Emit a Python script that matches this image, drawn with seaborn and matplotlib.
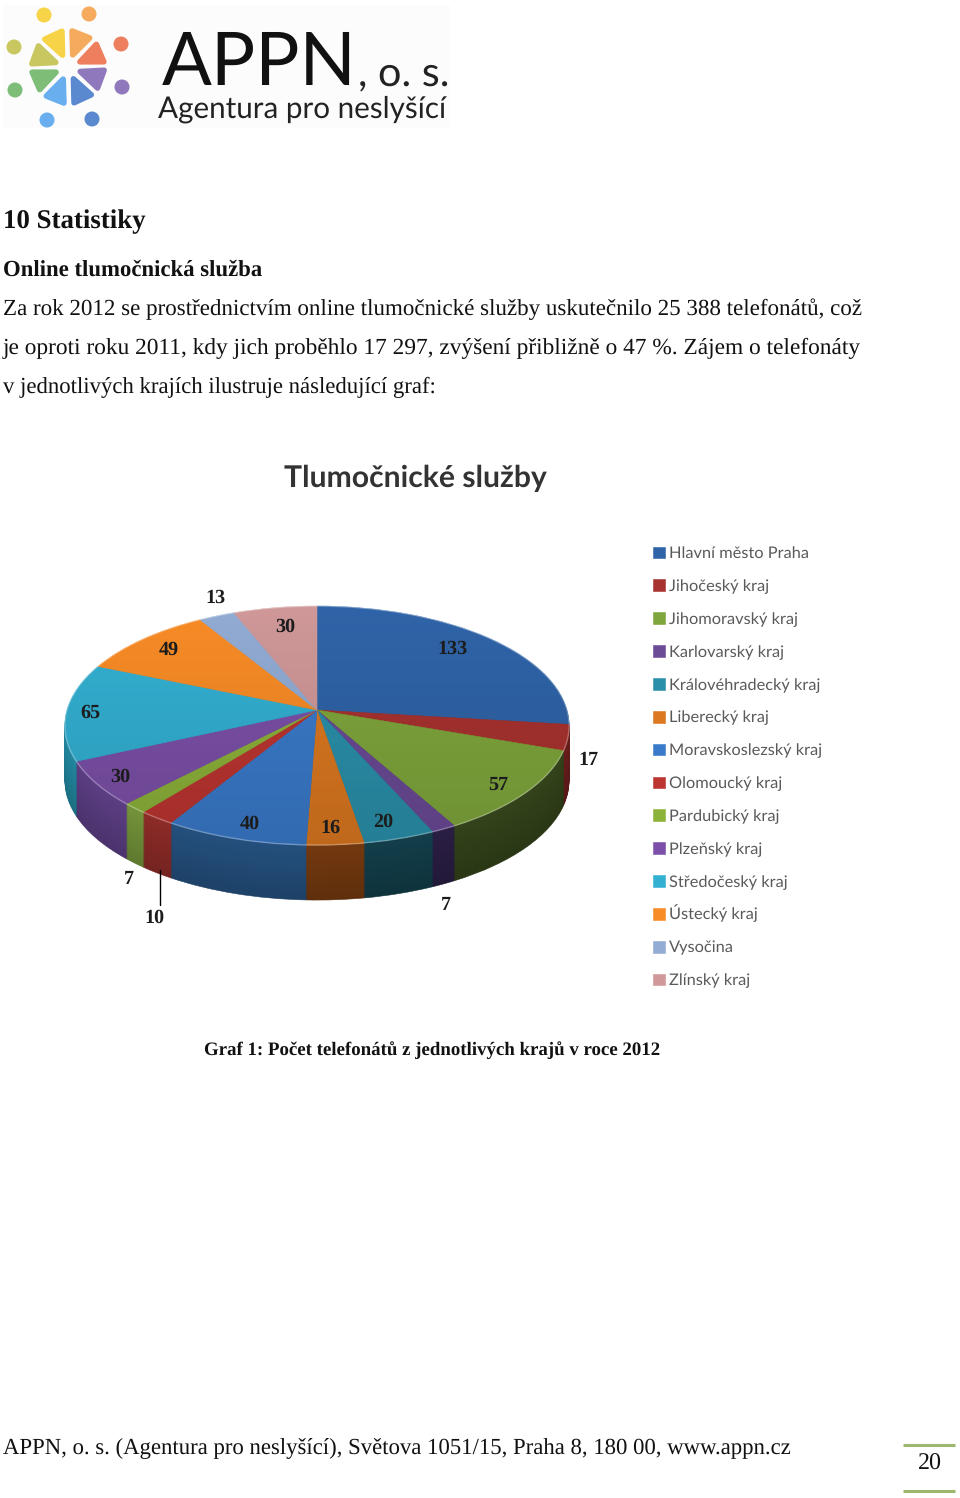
import numpy as np
import matplotlib
matplotlib.use("Agg")
import matplotlib.pyplot as plt
from matplotlib.font_manager import FontProperties
from matplotlib.patches import Circle, Polygon, Rectangle
from matplotlib.textpath import TextPath
from matplotlib.transforms import Transform, Affine2D, Bbox
import seaborn as sns

# ---------- data ----------
regions = ["Hlavní město Praha", "Jihočeský kraj", "Jihomoravský kraj", "Karlovarský kraj",
           "Královéhradecký kraj", "Liberecký kraj", "Moravskoslezský kraj", "Olomoucký kraj",
           "Pardubický kraj", "Plzeňský kraj", "Středočeský kraj", "Ústecký kraj",
           "Vysočina", "Zlínský kraj"]
calls = [133, 17, 57, 7, 20, 16, 40, 10, 7, 30, 65, 49, 13, 30]

# ---------- styles ----------
top_hex = ["#2F64A8", "#A8322F", "#7FA63C", "#6B4A96", "#2A90AA", "#DB7820", "#3A7ACA",
           "#BC3530", "#8DB23A", "#7C50A8", "#33B0D2", "#F88C26", "#92ACD4", "#D09898"]
side_hex = ["#1F3F6E", "#6A1D1B", "#33431A", "#2A1E44", "#123E4A", "#74390F", "#24507E",
            "#8E2B28", "#74943A", "#5C3E84", "#2288A0", "#B8641A", "#6D80A0", "#9A7070"]
label_x = [452, 588, 498, 446, 383, 330, 250, 154, 129, 120, 90, 169, 215, 285]
label_y = [649, 760, 785, 905, 822, 828, 824, 918, 879, 777, 713, 650, 598, 627]

sns.set_theme(style="white")
plt.rcParams["font.family"] = ["Liberation Serif", "DejaVu Sans"]
plt.rcParams["text.hinting"] = "no_hinting"
top_pal = sns.color_palette(top_hex)
side_pal = sns.color_palette(side_hex)

fig = plt.figure(figsize=(9.6, 14.98), dpi=100)
ax = fig.add_axes([0, 0, 1, 1])


class Tilt(Transform):
    """Perspective view of the unit-circle pie on the page."""
    input_dims = 2
    output_dims = 2
    has_inverse = False
    is_separable = False
    cx, cy, sx, sy, p = 317.0, 710.0, 250.0, 117.5, 0.13

    def transform_non_affine(self, v):
        v = np.asarray(v, float)
        x, y = v[:, 0], v[:, 1]
        w = 1 + self.p * y
        return np.column_stack([self.cx + self.sx * x / w, self.cy - self.sy * y / w])


tilt = Tilt()


def draw_pie(colors, dy, z):
    wedges, _ = ax.pie(calls, colors=colors, startangle=90, counterclock=False, radius=1,
                       wedgeprops=dict(linewidth=0.4))
    tr = tilt + Affine2D().translate(0, dy) + ax.transData
    for w, c in zip(wedges, colors):
        w.set_transform(tr)
        w.set_edgecolor(c)
        w.set_zorder(z)
    return wedges


depth = 55
for d in range(depth, 0, -1):
    f = 0.82 + 0.18 * (1 - d / depth)
    draw_pie([tuple(f * np.array(c)) for c in side_pal], d, 1 + (depth - d) * 0.01)
tops = draw_pie(list(top_pal), 0, 2)

# soft vertical shading of the pie top
grad = np.zeros((120, 2, 4))
grad[..., 3] = np.linspace(0.0, 0.13, 120)[:, None]
im = ax.imshow(grad, extent=(60, 575, 850, 600), aspect="auto", zorder=3, interpolation="bilinear")
clip = Circle((0, 0), 1)
clip.set_transform(tilt + ax.transData)
im.set_clip_path(clip)
rim = Circle((0, 0), 1, fill=False, edgecolor="white", alpha=0.3, linewidth=1.0, zorder=3.5)
ax.add_patch(rim)
rim.set_transform(tilt + ax.transData)

ax.set_xlim(0, 960)
ax.set_ylim(1498, 0)
ax.set_aspect("auto")
ax.axis("off")

# value labels
for v, x, y in zip(calls, label_x, label_y):
    ax.text(x, y, str(v), ha="center", va="center", fontsize=14.5, fontweight="bold",
            color="#1c1c1c", zorder=6)
ax.plot([160, 160], [870, 905], color="black", lw=1.0, zorder=6)

# legend
leg = ax.legend(tops, regions, loc="upper left", bbox_to_anchor=(648, 541.5),
                bbox_transform=ax.transData, frameon=False,
                prop=dict(family="Lato", size=11.8), labelspacing=1.118, handlelength=0.72,
                handleheight=0.72, handletextpad=0.24, borderpad=0.3, borderaxespad=0)
for t in leg.get_texts():
    t.set_color("#5a5a5a")
# keep every legend row the same height, also the one with the accented capital
rows = leg._legend_handle_box.get_children()[0].get_children()
ref_area = rows[0].get_children()[1]
for row in rows[1:]:
    area = row.get_children()[1]
    orig = area.get_bbox
    def _same_height(renderer, orig=orig):
        b = orig(renderer)
        r = ref_area.get_bbox(renderer)
        return Bbox.from_bounds(b.x0, r.y0, b.width, r.height)
    area.get_bbox = _same_height


# text helper: size the line so that it spans the measured extent
def fit(x0, x1, base, s, family="Liberation Serif", fontweight="normal", color="black"):
    fp = FontProperties(family=family, weight=fontweight)
    bb = TextPath((0, 0), s, size=100, prop=fp).get_extents()
    size = 100 * (x1 - x0) / bb.width * 72 / fig.dpi
    return ax.text(x0, base, s, ha="left", va="baseline", family=family, fontweight=fontweight,
                   color=color, fontsize=size)


ink = "#111111"
fit(3, 143, 228, "10 Statistiky", fontweight="bold", color=ink)
fit(3, 261, 276, "Online tlumočnická služba", fontweight="bold", color=ink)
fit(3, 862, 315, "Za rok 2012 se prostřednictvím online tlumočnické služby uskutečnilo 25 388 telefonátů, což", color=ink)
fit(3, 861, 354, "je oproti roku 2011, kdy jich proběhlo 17 297, zvýšení přibližně o 47 %. Zájem o telefonáty", color=ink)
fit(3, 435, 393, "v jednotlivých krajích ilustruje následující graf:", color=ink)
fit(284, 546, 487, "Tlumočnické služby", family="Lato", fontweight="bold", color="#333333")
fit(204, 660, 1055, "Graf 1: Počet telefonátů z jednotlivých krajů v roce 2012", fontweight="bold", color=ink)
fit(3, 791, 1453, "APPN, o. s. (Agentura pro neslyšící), Světova 1051/15, Praha 8, 180 00, www.appn.cz", color=ink)
fit(918, 940, 1470, "20", color=ink)
for y in (1445, 1491):
    ax.plot([903, 955], [y, y], color="#9DB86E", lw=2.2, solid_capstyle="butt")

# logo
ax.add_patch(Rectangle((3, 5), 447, 123, facecolor="#FCFCFC", edgecolor="none", zorder=0))
lc = np.array([68.0, 67.0])
logo_cols = ["#F7D447", "#F5AA5E", "#EE7F5E", "#9078BC", "#5B89D0", "#69AEEE", "#7DBD78", "#C9C760"]
dots = np.array([[44, 15], [89, 14], [121, 44], [122, 87], [92, 119], [47, 120], [15, 90], [14, 47]], float)
for c, dpos in zip(logo_cols, dots):
    ax.add_patch(Circle(dpos, 7.5, facecolor=c, edgecolor="none", zorder=1))
    u = (dpos - lc) / np.linalg.norm(dpos - lc)
    n = np.array([-u[1], u[0]])
    tri = [lc + u * 13, lc + u * 35 + n * 9.5, lc + u * 35 - n * 9.5]
    ax.add_patch(Polygon(tri, closed=True, facecolor=c, edgecolor=c, lw=4, joinstyle="round", zorder=1))
fit(162, 350, 85, "APPN", family="Lato", color="#111111")
fit(358, 445, 85, ", o. s.", family="Lato", color="#222222")
fit(158, 447, 118, "Agentura pro neslyšící", family="Lato", color="#222222")

fig.savefig("out.png", dpi=100)
